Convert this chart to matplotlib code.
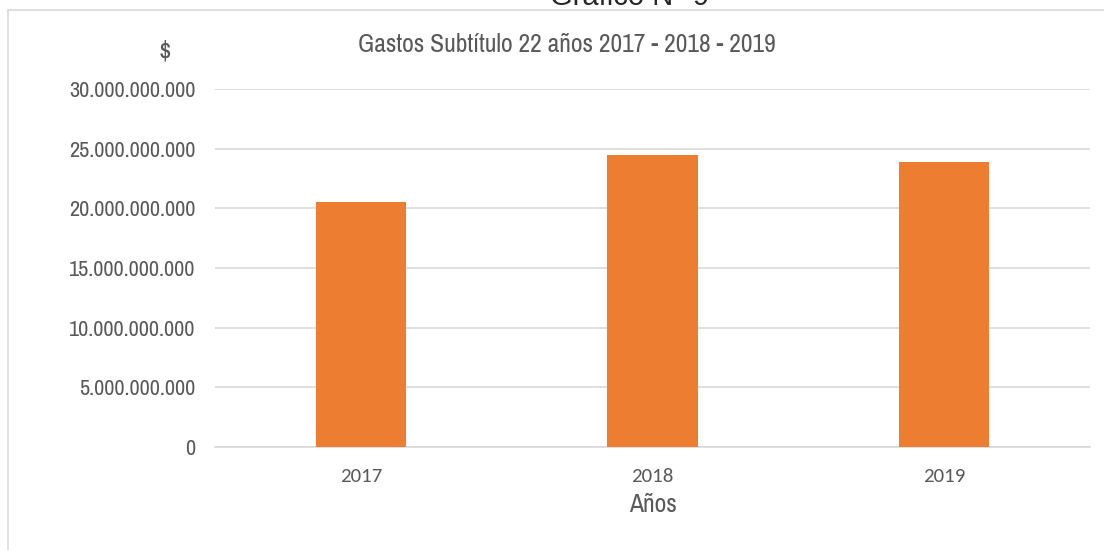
import matplotlib.pyplot as plt
from matplotlib.patches import Rectangle
from matplotlib.ticker import FuncFormatter

years = ["2017", "2018", "2019"]
gastos = [20_550_000_000, 24_500_000_000, 23_900_000_000]
y_ticks = [0, 5e9, 10e9, 15e9, 20e9, 25e9, 30e9]

NARROW = ["Archivo Narrow", "PT Sans Narrow", "DejaVu Sans"]
GRAY = "#595959"
ORANGE = "#ed7d31"
GRID = "#d9d9d9"


def miles(v, _pos):
    return f"{int(v):,}".replace(",", ".")


fig = plt.figure(figsize=(11.04, 5.5), dpi=100)

# marco del gráfico (abierto a la derecha y abajo, como en el recorte original)
fig.add_artist(Rectangle((8 / 1104, -0.1), 1.2, 1 - 10 / 550 + 0.1,
                         transform=fig.transFigure, fill=False,
                         edgecolor=GRID, linewidth=1.2))

# encabezado sobre el marco, casi todo recortado
fig.text(630 / 1104, 1 - 5 / 550, "Gráfico N° 9", ha="center", va="baseline",
         fontsize=21, color="#262626", family=["Liberation Sans", "DejaVu Sans"])

ax = fig.add_axes([215 / 1104, 1 - 447 / 550, 875 / 1104, 358 / 550])
x = range(len(years))
ax.bar(x, gastos, width=0.31, color=ORANGE, zorder=3)

ax.set_xlim(-0.5, len(years) - 0.5)
ax.set_ylim(0, 30e9)
ax.set_yticks(y_ticks)
ax.yaxis.set_major_formatter(FuncFormatter(miles))
ax.set_xticks(list(x))
ax.set_xticklabels(years)

ax.grid(axis="y", color=GRID, linewidth=1.2, zorder=0)
for side in ["left", "right", "top"]:
    ax.spines[side].set_visible(False)
ax.spines["bottom"].set_color(GRID)
ax.spines["bottom"].set_linewidth(1.2)
ax.tick_params(length=0)
ax.tick_params(axis="y", pad=14, labelcolor=GRAY, labelsize=16)
ax.tick_params(axis="x", pad=15, labelcolor=GRAY, labelsize=15)
for lbl in ax.get_yticklabels():
    lbl.set_family(NARROW)
for lbl in ax.get_xticklabels():
    lbl.set_family(["Carlito", "DejaVu Sans"])

ax.set_xlabel("Años", color=GRAY, fontsize=18.5, family=NARROW, labelpad=6)

fig.text(165 / 1104, 1 - 52 / 550, "$", ha="center", va="center",
         fontsize=20, color=GRAY, family=NARROW)
fig.text(567 / 1104, 1 - 44 / 550, "Gastos Subtítulo 22 años 2017 - 2018 - 2019",
         ha="center", va="center", fontsize=18.4, color=GRAY, family=NARROW)

fig.savefig("out.png", dpi=100)
